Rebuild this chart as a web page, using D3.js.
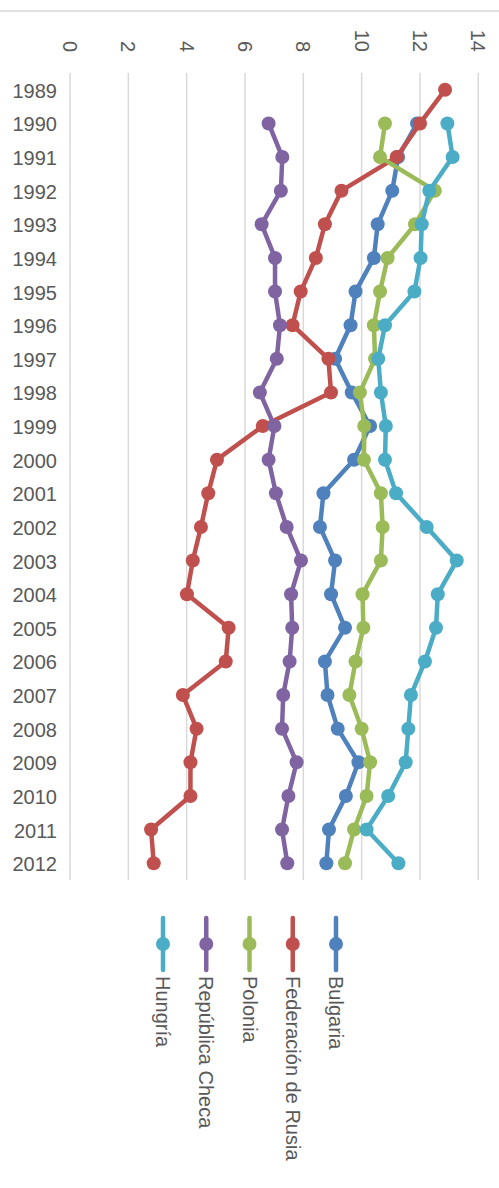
<!DOCTYPE html>
<html>
<head>
<meta charset="utf-8">
<script src="https://cdn.jsdelivr.net/npm/d3@7"></script>
<style>
  html, body { margin: 0; padding: 0; background: #fff; }
  svg { display: block; }
  text { font-family: "Liberation Sans", Arial, sans-serif; fill: #595959; }
</style>
</head>
<body>
<svg id="chart" width="499" height="1188"></svg>
<script>
const years = ["1989","1990","1991","1992","1993","1994","1995","1996","1997","1998","1999","2000",
               "2001","2002","2003","2004","2005","2006","2007","2008","2009","2010","2011","2012"];
const ticks = [0, 2, 4, 6, 8, 10, 12, 14];

const bulgaria = [null, 11.9, 11.25, 11.05, 10.55, 10.42, 9.79, 9.62, 9.09, 9.66, 10.29, 9.74,
                  8.69, 8.57, 9.09, 8.95, 9.43, 8.74, 8.83, 9.18, 9.89, 9.46, 8.88, 8.79];
const rusia    = [12.86, 12.0, 11.2, 9.31, 8.74, 8.43, 7.91, 7.63, 8.86, 8.95, 6.61, 5.04,
                  4.74, 4.49, 4.21, 4.01, 5.44, 5.34, 3.87, 4.34, 4.13, 4.13, 2.78, 2.87];
const polonia  = [null, 10.8, 10.63, 12.51, 11.83, 10.89, 10.63, 10.42, 10.46, 9.94, 10.09, 10.08,
                  10.66, 10.72, 10.66, 10.03, 10.06, 9.79, 9.58, 10.0, 10.29, 10.17, 9.74, 9.43];
const checa    = [null, 6.81, 7.28, 7.23, 6.57, 7.03, 7.03, 7.2, 7.09, 6.51, 7.01, 6.81,
                  7.06, 7.43, 7.92, 7.58, 7.62, 7.53, 7.31, 7.27, 7.77, 7.49, 7.27, 7.45];
const hungria  = [null, 12.94, 13.12, 12.32, 12.06, 12.02, 11.81, 10.8, 10.57, 10.66, 10.83, 10.8,
                  11.18, 12.23, 13.26, 12.61, 12.55, 12.17, 11.69, 11.6, 11.51, 10.91, 10.17, 11.26];

const seriesNames = ["Bulgaria", "Federación de Rusia", "Polonia", "República Checa", "Hungría"];
const seriesValues = [bulgaria, rusia, polonia, checa, hungria];
const colors = ["#4F81BD", "#C0504D", "#9BBB59", "#8064A2", "#4BACC6"];

const svg = d3.select("#chart");

const x = d3.scaleLinear().domain([0, 14]).range([70, 478.3]);
const y = d3.scaleBand().domain(years).range([73, 880]).padding(0);
const yc = d => y(d) + y.bandwidth() / 2;

// top border line
svg.append("line")
  .attr("x1", 0).attr("x2", 499).attr("y1", 11).attr("y2", 11)
  .attr("stroke", "#d9d9d9").attr("stroke-width", 1.5);

// gridlines
svg.append("g").selectAll("line").data(ticks).join("line")
  .attr("x1", d => x(d)).attr("x2", d => x(d))
  .attr("y1", 73).attr("y2", 880)
  .attr("stroke", "#d9d9d9").attr("stroke-width", 1.5);

// value tick labels (rotated)
svg.append("g").selectAll("text").data(ticks).join("text")
  .attr("transform", d => `translate(${x(d) - 7},52) rotate(90)`)
  .attr("text-anchor", "end")
  .attr("font-size", 20)
  .text(d => d);

// year labels
svg.append("g").selectAll("text").data(years).join("text")
  .attr("x", 57)
  .attr("y", d => yc(d) + 8)
  .attr("text-anchor", "end")
  .attr("font-size", 20)
  .text(d => d);

// series
const line = d3.line()
  .defined(d => d.v !== null)
  .x(d => x(d.v))
  .y(d => yc(d.year));

seriesValues.forEach((vals, i) => {
  const pts = years.map((yr, j) => ({ year: yr, v: vals[j] }));
  const g = svg.append("g");
  g.append("path")
    .datum(pts)
    .attr("d", line)
    .attr("fill", "none")
    .attr("stroke", colors[i])
    .attr("stroke-width", 4.5)
    .attr("stroke-linejoin", "round")
    .attr("stroke-linecap", "round");
  g.selectAll("circle").data(pts.filter(d => d.v !== null)).join("circle")
    .attr("cx", d => x(d.v))
    .attr("cy", d => yc(d.year))
    .attr("r", 7)
    .attr("fill", colors[i]);
});

// legend (rotated, Bulgaria rightmost)
const legendX = d3.scalePoint().domain(seriesNames.slice().reverse()).range([163, 336]);
const leg = svg.append("g");
seriesNames.forEach((name, i) => {
  const lx = legendX(name);
  leg.append("line")
    .attr("x1", lx).attr("x2", lx).attr("y1", 918).attr("y2", 970)
    .attr("stroke", colors[i]).attr("stroke-width", 4.5)
    .attr("stroke-linecap", "round");
  leg.append("circle")
    .attr("cx", lx).attr("cy", 944).attr("r", 7)
    .attr("fill", colors[i]);
  leg.append("text")
    .attr("transform", `translate(${lx - 7},976) rotate(90)`)
    .attr("text-anchor", "start")
    .attr("font-size", 20)
    .text(name);
});
</script>
</body>
</html>
